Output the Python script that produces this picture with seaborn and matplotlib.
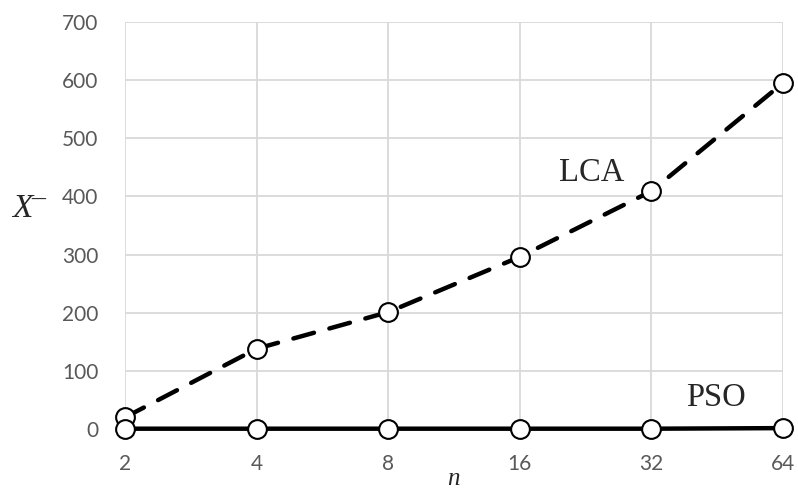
import matplotlib
matplotlib.use("Agg")
import matplotlib.pyplot as plt
import seaborn as sns
import pandas as pd

n_labels = ["2", "4", "8", "16", "32", "64"]
lca_values = [20, 138, 201, 296, 409, 595]
pso_values = [0.5, 0.5, 0.5, 0.5, 0.5, 1.5]
y_ticks = [0, 100, 200, 300, 400, 500, 600, 700]

sns.set_theme(style="white")
plt.rcParams["font.family"] = ["Lato", "DejaVu Sans"]

fig = plt.figure(figsize=(7.98, 4.94), dpi=100)
ax = fig.add_axes([0.1566, 0.1316, 0.8246, 0.824])

df_lca = pd.DataFrame({"n": n_labels, "v": lca_values})
df_pso = pd.DataFrame({"n": n_labels, "v": pso_values})

marker_kw = dict(marker="o", markersize=13.5, markerfacecolor="white",
                 markeredgecolor="black", markeredgewidth=1.5, color="black")

sns.lineplot(data=df_lca, x="n", y="v", ax=ax, linewidth=3.2,
             linestyle=(0, (4.8, 3.6)), dash_capstyle="round", zorder=3,
             **marker_kw)
sns.lineplot(data=df_pso, x="n", y="v", ax=ax, linewidth=3.2,
             zorder=4, **marker_kw)
for l in ax.get_lines():
    l.set_clip_on(False)

ax.set_xlim(0, len(n_labels) - 1)
ax.set_ylim(0, 700)
ax.set_yticks(y_ticks)
ax.set_xticks(range(len(n_labels)))
ax.set_xticklabels(n_labels)

ax.grid(True, color="#d9d9d9", linewidth=1.3)
ax.set_axisbelow(True)
for s in ax.spines.values():
    s.set_visible(False)

ax.tick_params(axis="both", length=0, labelsize=15, labelcolor="#595959")
ax.tick_params(axis="y", pad=19)
ax.tick_params(axis="x", pad=18)

ax.set_xlabel("")
ax.set_ylabel("")

serif = ["Liberation Serif", "DejaVu Serif"]
fig.text(453 / 798, 1 - 479 / 494, "n", family=serif, style="italic",
         fontsize=18, ha="center", va="center")
fig.text(12 / 798, 1 - 217 / 494, "X", family=serif, style="italic",
         fontsize=24, ha="left", va="baseline")
fig.text(38 / 798, 1 - 220 / 494, "\u00af", family=serif,
         fontsize=20, ha="center", va="baseline")

fig.text(592 / 798, 1 - 173 / 494, "LCA", family=serif, fontsize=23.5,
         ha="center", va="center")
fig.text(716 / 798, 1 - 398 / 494, "PSO", family=serif, fontsize=23.5,
         ha="center", va="center")

fig.savefig("out.png", dpi=100)
